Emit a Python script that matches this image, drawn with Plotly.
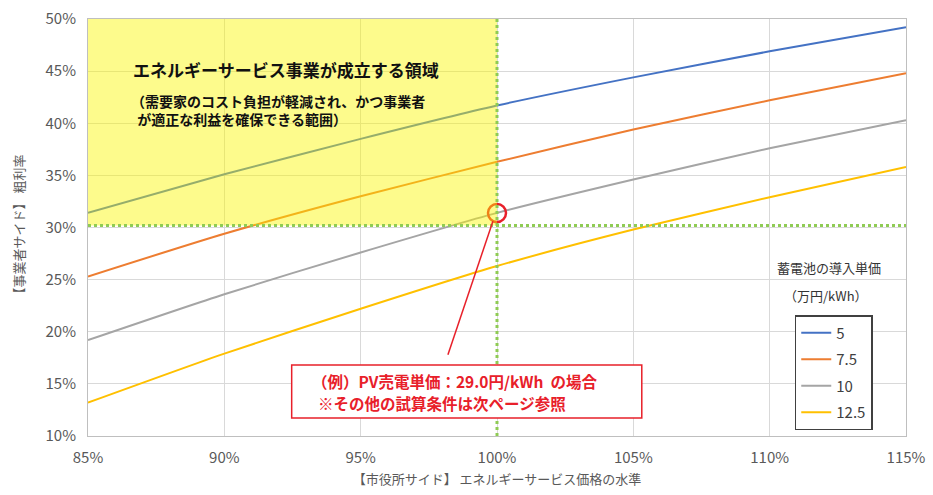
import plotly.graph_objects as go

# Energy-service price level (% of baseline) on the x axis
price_level = [85, 90, 95, 100, 105, 110, 115]

# Gross margin (%) for each battery unit cost (万円/kWh)
margin_5 = [31.4, 35.1, 38.5, 41.7, 44.4, 46.9, 49.2]
margin_7_5 = [25.3, 29.4, 33.0, 36.3, 39.4, 42.2, 44.8]
margin_10 = [19.2, 23.6, 27.6, 31.4, 34.6, 37.6, 40.3]
margin_12_5 = [13.2, 17.9, 22.2, 26.3, 29.8, 32.9, 35.8]

series_names = ["5", "7.5", "10", "12.5"]
series_values = [margin_5, margin_7_5, margin_10, margin_12_5]
series_colors = ["#4472C4", "#ED7D31", "#A5A5A5", "#FFC000"]

# Break-even thresholds
threshold_price = 100
threshold_margin = 30.2
example_point = (100, 31.4)
callout_anchor = (98.2, 17.8)

x_ticks = [85, 90, 95, 100, 105, 110, 115]
y_ticks = [10, 15, 20, 25, 30, 35, 40, 45, 50]

JP = "Noto Sans CJK JP"
GRAY = "#595959"
RED = "#E8202A"

fig = go.Figure()

for name, vals, col in zip(series_names, series_values, series_colors):
    fig.add_trace(go.Scatter(
        x=price_level, y=vals, name=name, legendgroup=name, mode="lines",
        line=dict(color=col, width=2, shape="spline", smoothing=0.6),
    ))

# Feasible region shading (drawn over the curves, semi-transparent)
fig.add_shape(type="rect", xref="x", yref="y",
              x0=price_level[0], x1=threshold_price, y0=threshold_margin, y1=50,
              fillcolor="rgba(250,246,0,0.45)", line=dict(width=0), layer="above")

# Threshold dotted lines
fig.add_shape(type="line", xref="x", yref="y",
              x0=threshold_price, x1=threshold_price, y0=10, y1=50,
              line=dict(color="#8FCB54", width=3, dash="dot"), layer="above")
fig.add_shape(type="line", xref="x", yref="y",
              x0=price_level[0], x1=price_level[-1], y0=threshold_margin, y1=threshold_margin,
              line=dict(color="#8FCB54", width=3, dash="dot"), layer="above")

# Callout line and marker circle
fig.add_shape(type="line", xref="x", yref="y",
              x0=callout_anchor[0], y0=callout_anchor[1],
              x1=example_point[0] - 0.15, y1=example_point[1] - 0.8,
              line=dict(color=RED, width=1.5), layer="above")
fig.add_trace(go.Scatter(
    x=[example_point[0]], y=[example_point[1]], mode="markers", showlegend=False,
    marker=dict(size=18, color="rgba(0,0,0,0)", line=dict(color=RED, width=2.5)),
    hoverinfo="skip",
))

# Region labels
fig.add_annotation(xref="paper", yref="paper", x=0.242, y=0.878,
                   xanchor="center", yanchor="middle",
                   text="<b>エネルギーサービス事業が成立する領域</b>",
                   showarrow=False, font=dict(family=JP, size=17, color="#111111"))
fig.add_annotation(xref="paper", yref="paper", x=0.05, y=0.782,
                   xanchor="left", yanchor="middle",
                   text="<b>（需要家のコスト負担が軽減され、かつ事業者<br>  が適正な利益を確保できる範囲）</b>",
                   showarrow=False, align="left",
                   font=dict(family=JP, size=14, color="#111111"))

# Example callout box
fig.add_shape(type="rect", xref="paper", yref="paper",
              x0=0.249, x1=0.677, y0=0.043, y1=0.170,
              fillcolor="white", line=dict(color=RED, width=1.5), layer="above")
fig.add_annotation(xref="paper", yref="paper", x=0.272, y=0.131,
                   xanchor="left", yanchor="middle",
                   text="<b>（例）PV売電単価：29.0円/kWh  の場合</b>",
                   showarrow=False, font=dict(family=JP, size=15.5, color=RED))
fig.add_annotation(xref="paper", yref="paper", x=0.279, y=0.078,
                   xanchor="left", yanchor="middle",
                   text="<b>※その他の試算条件は次ページ参照</b>",
                   showarrow=False, font=dict(family=JP, size=15.5, color=RED))

# Legend title
fig.add_annotation(xref="paper", yref="paper", x=0.906, y=0.403,
                   xanchor="center", yanchor="middle",
                   text="蓄電池の導入単価", showarrow=False,
                   font=dict(family=JP, size=13, color="#333333"))
fig.add_annotation(xref="paper", yref="paper", x=0.902, y=0.336,
                   xanchor="center", yanchor="middle",
                   text="（万円/kWh）", showarrow=False,
                   font=dict(family=JP, size=13, color="#333333"))

# Y axis title placed beside the tick labels
fig.add_annotation(xref="paper", yref="paper", x=0, y=0.5,
                   xanchor="center", yanchor="middle", xshift=-70,
                   text="【事業者サイド】 粗利率", textangle=-90, showarrow=False,
                   font=dict(family=JP, size=13, color=GRAY))

fig.update_layout(
    width=933, height=495,
    margin=dict(l=88, r=27, t=19, b=59, autoexpand=False),
    paper_bgcolor="white", plot_bgcolor="white",
    font=dict(family=JP, color=GRAY),
    showlegend=True,
    legend=dict(x=0.864, y=0.29, xanchor="left", yanchor="top",
                bgcolor="white", bordercolor="#404040", borderwidth=1.5,
                font=dict(family=JP, size=15, color="#404040"),
                itemwidth=30, tracegroupgap=4),
    xaxis=dict(range=[85, 115], tickvals=x_ticks,
               ticktext=[f"{v}%" for v in x_ticks], automargin=False,
               showgrid=True, gridcolor="#D9D9D9", gridwidth=1,
               showline=True, linecolor="#BFBFBF", mirror=True,
               zeroline=False, ticks="", ticklabelstandoff=8,
               tickfont=dict(size=15, color=GRAY),
               title=dict(text="【市役所サイド】 エネルギーサービス価格の水準",
                          font=dict(size=13, color=GRAY), standoff=8)),
    yaxis=dict(range=[10, 50], tickvals=y_ticks,
               ticktext=[f"{v}%" for v in y_ticks], automargin=False,
               showgrid=True, gridcolor="#D9D9D9", gridwidth=1,
               showline=True, linecolor="#BFBFBF", mirror=True,
               zeroline=False, ticks="", ticklabelstandoff=8,
               tickfont=dict(size=15, color=GRAY)),
)

fig.write_html("out.html")
